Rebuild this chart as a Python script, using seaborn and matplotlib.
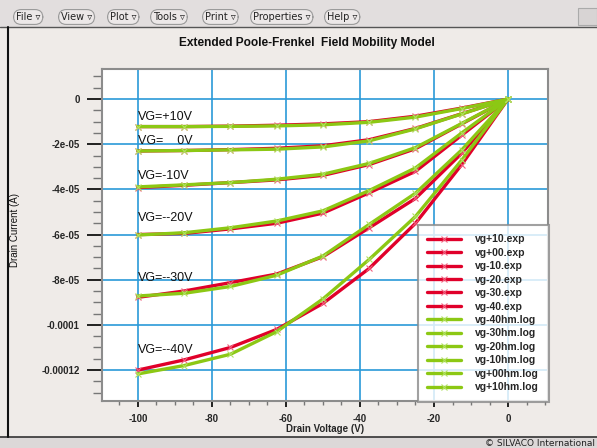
import numpy as np
import pandas as pd
import matplotlib
matplotlib.use("Agg")
import matplotlib.pyplot as plt
import seaborn as sns
from matplotlib.ticker import MultipleLocator
from matplotlib.patches import Rectangle
from matplotlib.lines import Line2D

# drain voltage points (V)
vd = [-100, -87.5, -75, -62.5, -50, -37.5, -25, -12.5, 0]

# measured (exp) drain current, in 1e-5 A
exp_p10 = [-1.22, -1.22, -1.20, -1.16, -1.10, -1.00, -0.76, -0.40, 0]
exp_p00 = [-2.30, -2.28, -2.24, -2.18, -2.07, -1.80, -1.30, -0.65, 0]
exp_m10 = [-3.92, -3.82, -3.70, -3.58, -3.38, -2.90, -2.20, -1.10, 0]
exp_m20 = [-6.00, -5.95, -5.75, -5.50, -5.05, -4.15, -3.20, -1.60, 0]
exp_m30 = [-8.78, -8.50, -8.13, -7.75, -6.98, -5.70, -4.40, -2.40, 0]
exp_m40 = [-12.0, -11.55, -11.0, -10.2, -9.05, -7.50, -5.50, -2.90, 0]

# simulated (log) drain current, in 1e-5 A
log_m40 = [-12.17, -11.80, -11.30, -10.30, -8.85, -7.10, -5.20, -2.70, 0]
log_m30 = [-8.72, -8.60, -8.30, -7.80, -6.95, -5.55, -4.17, -2.25, 0]
log_m20 = [-6.02, -5.92, -5.70, -5.40, -4.95, -4.05, -3.05, -1.50, 0]
log_m10 = [-3.89, -3.80, -3.70, -3.55, -3.33, -2.85, -2.15, -1.08, 0]
log_p00 = [-2.30, -2.28, -2.25, -2.22, -2.12, -1.85, -1.32, -0.66, 0]
log_p10 = [-1.22, -1.22, -1.21, -1.19, -1.14, -1.03, -0.80, -0.42, 0]

exp_names = ["vg+10.exp", "vg+00.exp", "vg-10.exp", "vg-20.exp", "vg-30.exp", "vg-40.exp"]
log_names = ["vg-40hm.log", "vg-30hm.log", "vg-20hm.log", "vg-10hm.log", "vg+00hm.log", "vg+10hm.log"]
exp_series = [exp_p10, exp_p00, exp_m10, exp_m20, exp_m30, exp_m40]
log_series = [log_m40, log_m30, log_m20, log_m10, log_p00, log_p10]

curve_labels = ["VG=+10V", "VG=    0V", "VG=-10V", "VG=--20V", "VG=--30V", "VG=--40V"]
curve_label_y = [-0.80, -1.86, -3.40, -5.27, -7.92, -11.1]  # 1e-5 A

xticks = [-100, -80, -60, -40, -20, 0]
xticklabels = ["-100", "-80", "-60", "-40", "-20", "0"]
yticks = [0, -2e-05, -4e-05, -6e-05, -8e-05, -0.0001, -0.00012]
yticklabels = ["0", "-2e-05", "-4e-05", "-6e-05", "-8e-05", "-0.0001", "-0.00012"]

RED = "#e0002a"
GREEN = "#8cc814"
BG = "#efebe8"

sns.set_theme(style="white")
plt.rcParams["font.family"] = ["Liberation Sans", "DejaVu Sans"]
plt.rcParams["axes.unicode_minus"] = False

W, H = 597, 448
fig = plt.figure(figsize=(W / 100, H / 100), dpi=100, facecolor=BG)

def fx(px):
    return px / W

def fy(py):
    return 1 - py / H

# window chrome: menu bar, left border, status bar
fig.add_artist(Rectangle((0, fy(27)), 1, 27 / H, transform=fig.transFigure,
                         facecolor="#e2dede", edgecolor="none", zorder=0))
fig.add_artist(Line2D([0, 1], [fy(27), fy(27)], color="#555555", lw=1))
fig.add_artist(Rectangle((fx(578), fy(25)), 19 / W, 17 / H, transform=fig.transFigure,
                         facecolor="#d8d4d4", edgecolor="#aaaaaa", lw=0.8))
fig.add_artist(Rectangle((0, 0), 1, 11 / H, transform=fig.transFigure,
                         facecolor="#dcd8d8", edgecolor="none", zorder=0))
fig.add_artist(Line2D([0, 1], [fy(437), fy(437)], color="#333333", lw=1.2))
fig.add_artist(Line2D([fx(8), fx(8)], [fy(27), fy(437)], color="#111111", lw=1.5))

menus = ["File", "View", "Plot", "Tools", "Print", "Properties", "Help"]
menu_x = [16, 61, 110, 153, 205, 253, 327]
for name, mx in zip(menus, menu_x):
    fig.text(fx(mx), fy(17), name + " \u25bf", ha="left", va="center", fontsize=7,
             family=["DejaVu Sans"], color="#222222",
             bbox=dict(boxstyle="round,pad=0.25,rounding_size=0.8", fc="#ece8e8", ec="#9a9a9a", lw=0.8))

fig.text(fx(595), fy(443), "\u00a9 SILVACO International", ha="right", va="center",
         fontsize=6.5, family=["DejaVu Sans"], color="#222222")

fig.text(fx(307), fy(43), "Extended Poole-Frenkel  Field Mobility Model", ha="center",
         va="center", fontsize=8.6, weight="bold", color="#111111")

# plot area
ax = fig.add_axes([fx(102), fy(401), (548 - 102) / W, (401 - 69) / H])
ax.set_facecolor("white")

for name, vals in zip(exp_names, exp_series):
    df = pd.DataFrame({"vd": vd, "id": np.array(vals) * 1e-5})
    sns.lineplot(data=df, x="vd", y="id", ax=ax, color=RED, lw=2.4, marker="x",
                 markersize=4, mew=0.8, mec="#f06080", label=name, sort=False, zorder=3)
for name, vals in zip(log_names, log_series):
    df = pd.DataFrame({"vd": vd, "id": np.array(vals) * 1e-5})
    sns.lineplot(data=df, x="vd", y="id", ax=ax, color=GREEN, lw=2.4, marker="x",
                 markersize=4, mew=0.8, mec="#b0e060", label=name, sort=False, zorder=4)

for txt, yv in zip(curve_labels, curve_label_y):
    ax.text(-100, yv * 1e-5, txt, ha="left", va="center", fontsize=9, color="#111111", zorder=5)

ax.set_xlim(-109.7, 10.8)
ax.set_ylim(-1.337e-4, 1.33e-5)
ax.set_xticks(xticks)
ax.set_xticklabels(xticklabels)
ax.set_yticks(yticks)
ax.set_yticklabels(yticklabels)
ax.xaxis.set_minor_locator(MultipleLocator(5))
ax.yaxis.set_minor_locator(MultipleLocator(5e-6))
ax.grid(True, which="major", color="#2a9ad8", lw=1.2, zorder=1)
ax.set_axisbelow(True)
ax.tick_params(axis="y", which="major", direction="out", length=11, width=1.3, color="#111111",
               pad=5, labelsize=7, left=True)
ax.tick_params(axis="y", which="minor", direction="out", length=6.5, width=1, color="#777777", left=True)
ax.tick_params(axis="x", which="major", direction="out", length=4.5, width=1.3, color="#111111",
               pad=5, labelsize=7, bottom=True)
ax.tick_params(axis="x", which="minor", direction="out", length=3, width=1, color="#777777", bottom=True)
for lab in ax.get_xticklabels() + ax.get_yticklabels():
    lab.set_fontweight("bold")
for sp in ax.spines.values():
    sp.set_color("#8c8c8c")
    sp.set_linewidth(1.5)

ax.set_xlabel("Drain Voltage (V)", fontsize=7, weight="bold", labelpad=0)
ax.set_ylabel("")
fig.text(fx(15), fy(230), "Drain Current (A)", rotation=90, ha="center", va="center",
         fontsize=7, color="#111111")

leg = ax.legend(loc="upper left", bbox_to_anchor=((418 - 102) / 446, (401 - 225) / 332),
                borderaxespad=0, prop={"weight": "bold", "size": 7.5},
                handlelength=3.2, handletextpad=1.4, labelspacing=0.33, borderpad=0.9,
                frameon=True, fancybox=False, framealpha=0.8, edgecolor="#8a8a8a")
leg.get_frame().set_linewidth(1.5)
leg.set_zorder(10)

fig.savefig("out.png", dpi=100, facecolor=BG)
